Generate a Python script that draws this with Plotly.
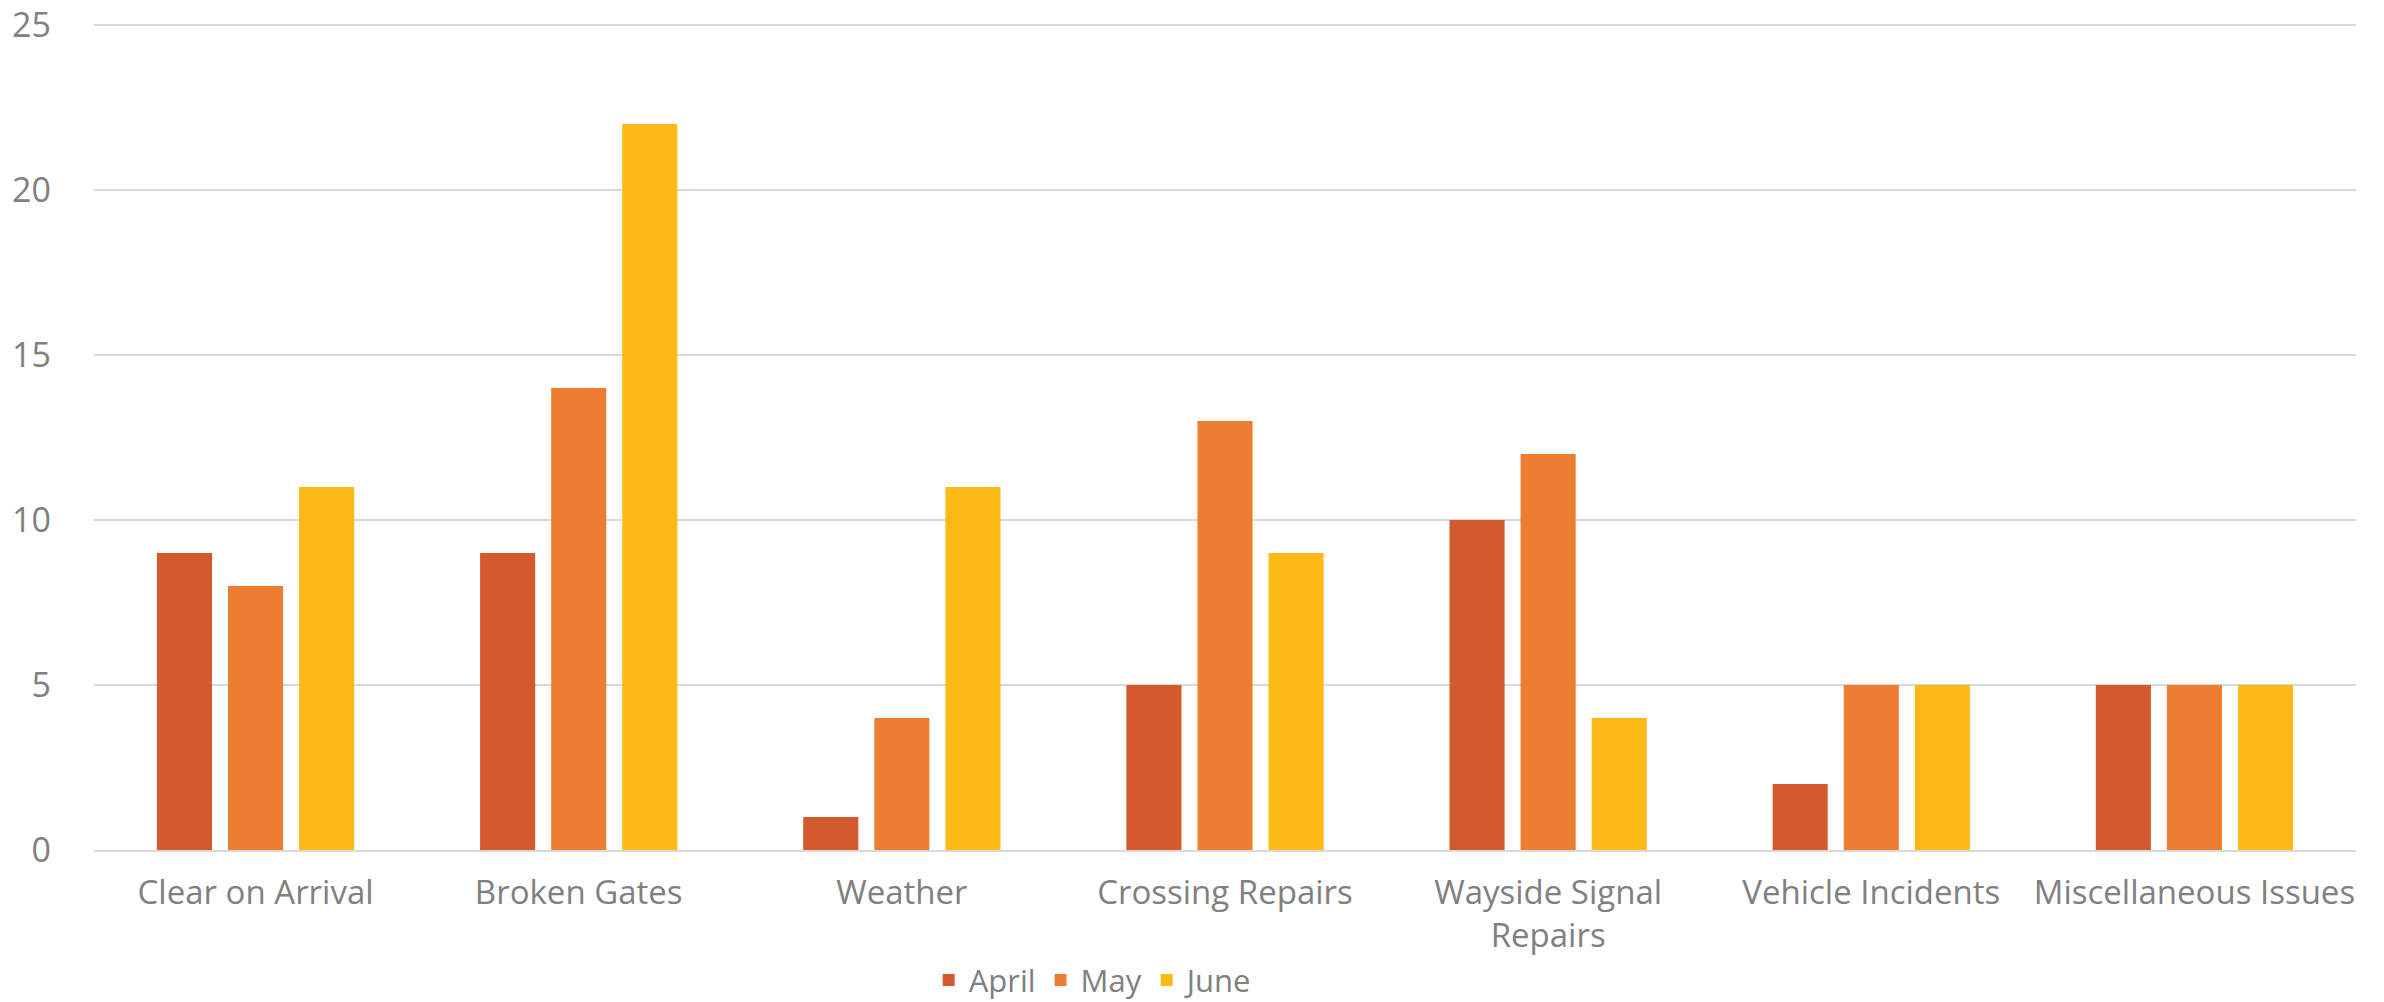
import plotly.graph_objects as go

categories = ["Clear on Arrival", "Broken Gates", "Weather", "Crossing Repairs",
              "Wayside Signal<br>Repairs", "Vehicle Incidents", "Miscellaneous Issues"]
april = [9, 9, 1, 5, 10, 2, 5]
may = [8, 14, 4, 13, 12, 5, 5]
june = [11, 22, 11, 9, 4, 5, 5]
series_names = ["April", "May", "June"]
y_ticks = [0, 5, 10, 15, 20, 25]
colors = ["#D35A2D", "#ED7D31", "#FDB915"]

fig = go.Figure()
for name, vals, col in zip(series_names, [april, may, june], colors):
    fig.add_trace(go.Bar(x=categories, y=vals, name=name, marker_color=col,
                         marker_line_width=0))

font_family = "Open Sans, DejaVu Sans, sans-serif"
fig.update_layout(
    width=2384, height=1002,
    paper_bgcolor="white", plot_bgcolor="white",
    margin=dict(l=94, r=28, t=15, b=152, autoexpand=False),
    barmode="group", bargap=0.34, bargroupgap=0.225,
    font=dict(family=font_family, color="#808080"),
    showlegend=True,
    legend=dict(orientation="h", x=0.369, xanchor="left", y=-0.156, yanchor="middle",
                font=dict(size=31, color="#808080"), traceorder="normal",
                itemwidth=30),
    xaxis=dict(showgrid=False, showline=True, linecolor="#D9D9D9", linewidth=2,
               tickfont=dict(size=33, color="#808080"), ticks="",
               ticklabelstandoff=12),
    yaxis=dict(range=[0, 25.3], tickvals=y_ticks, showgrid=True, gridcolor="#D9D9D9",
               gridwidth=2, zeroline=False, showline=False, ticks="",
               tickfont=dict(size=34, color="#808080"), ticklabelstandoff=42,
               ticklabeloverflow="allow"),
)

fig.write_html("out.html", config={"displayModeBar": False},
               post_script="document.body.style.margin='0';")
